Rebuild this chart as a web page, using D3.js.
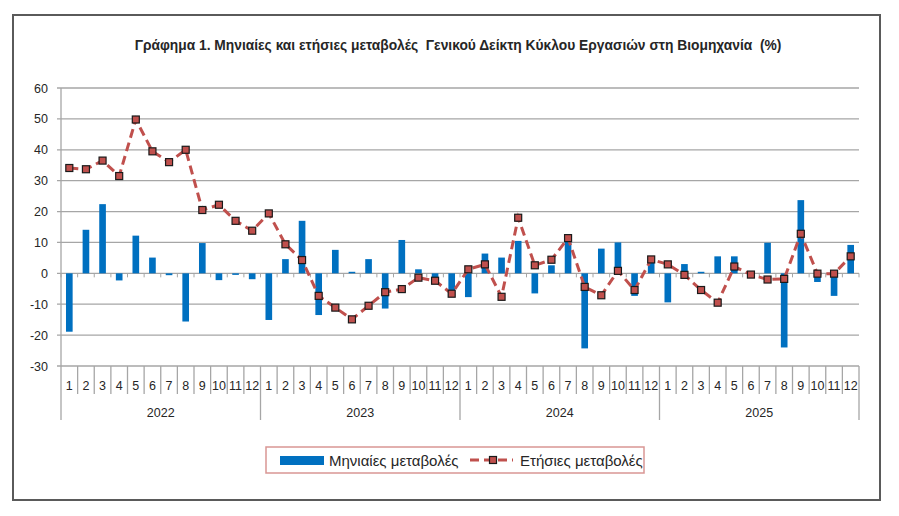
<!DOCTYPE html>
<html lang="el">
  <head>
    <meta charset="utf-8">
    <title>Γράφημα 1</title>
    <script src="https://d3js.org/d3.v7.min.js"></script>
    <style>
      body { margin: 0; background: #fff; }
      text { font-family: "Liberation Sans", Arial, sans-serif; fill: #262626; white-space: pre; }
    </style>
  </head>
  <body>
    <div id="chart"></div>
    <script>
      // Data
      var years = ["2022", "2023", "2024", "2025"];
      var months = ["1","2","3","4","5","6","7","8","9","10","11","12"];
      var yTicks = [-30, -20, -10, 0, 10, 20, 30, 40, 50, 60];

      // Μηνιαίες μεταβολές (bars)
      var monthly = [
        -18.9, 14.1, 22.4, -2.3, 12.2, 5.1, -0.6, -15.6, 9.8, -2.2, -0.5, -1.9,
        -15.1, 4.6, 17.0, -13.5, 7.6, 0.5, 4.6, -11.4, 10.8, 1.3, -1.8, -7.5,
        -7.7, 6.4, 5.1, 10.5, -6.5, 2.6, 12.0, -24.3, 8.0, 10.0, -7.3, 4.0,
        -9.4, 3.0, 0.5, 5.5, 5.5, -0.2, 9.9, -24.0, 23.7, -2.8, -7.3, 9.2
      ];
      // Ετήσιες μεταβολές (dashed line)
      var annual = [
        34.1, 33.7, 36.5, 31.5, 49.8, 39.5, 36.0, 40.0, 20.5, 22.2, 17.0, 13.8,
        19.4, 9.4, 4.3, -7.3, -11.1, -14.9, -10.5, -6.1, -5.1, -1.4, -2.4, -6.6,
        1.3, 2.9, -7.6, 18.0, 2.6, 4.4, 11.4, -4.4, -7.1, 0.8, -5.4, 4.5,
        2.9, -0.5, -5.4, -9.5, 2.2, -0.4, -2.0, -1.8, 12.8, -0.1, -0.1, 5.5
      ];

      var W = 899, H = 516;
      var plot = {left: 61, right: 859, top: 88, bottom: 366};

      var keys = [];
      years.forEach(function(y) { months.forEach(function(m) { keys.push(y + "-" + m); }); });

      var svg = d3.select("#chart").append("svg")
          .attr("width", W).attr("height", H);

      // outer frame
      svg.append("rect")
          .attr("x", 13).attr("y", 15).attr("width", 867).attr("height", 485)
          .attr("fill", "none").attr("stroke", "#5a5a5a").attr("stroke-width", 2);

      svg.append("text")
          .attr("x", 458).attr("y", 50)
          .attr("text-anchor", "middle")
          .style("font-size", "13.8px").style("font-weight", "bold")
          .text("Γράφημα 1. Μηνιαίες και ετήσιες μεταβολές  Γενικού Δείκτη Κύκλου Εργασιών στη Βιομηχανία  (%)");

      var x = d3.scaleBand().domain(keys).range([plot.left, plot.right])
          .paddingInner(0.6).paddingOuter(0.3);
      var step = x.step();
      var y = d3.scaleLinear().domain([-30, 60]).range([plot.bottom, plot.top]);

      // gridlines + y labels
      var yAxis = svg.append("g");
      yAxis.selectAll("line").data(yTicks).enter().append("line")
          .attr("x1", plot.left - 4).attr("x2", plot.right)
          .attr("y1", function(d) { return y(d); })
          .attr("y2", function(d) { return y(d); })
          .attr("stroke", "#a6a6a6").attr("stroke-width", 1.3);
      yAxis.selectAll("text").data(yTicks).enter().append("text")
          .attr("x", 48).attr("y", function(d) { return y(d) + 4.5; })
          .attr("text-anchor", "end")
          .style("font-size", "12.5px")
          .text(function(d) { return d; });
      svg.append("line")
          .attr("x1", plot.left).attr("x2", plot.left)
          .attr("y1", plot.top).attr("y2", plot.bottom)
          .attr("stroke", "#a6a6a6").attr("stroke-width", 1.3);

      // small ticks under the zero line
      var bounds = d3.range(keys.length + 1).map(function(i) { return plot.left + i * step; });
      svg.append("g").selectAll("line").data(bounds).enter().append("line")
          .attr("x1", function(d) { return d; }).attr("x2", function(d) { return d; })
          .attr("y1", y(0)).attr("y2", y(0) + 4)
          .attr("stroke", "#a6a6a6").attr("stroke-width", 1);

      // bars
      svg.append("g").selectAll("rect").data(monthly).enter().append("rect")
          .attr("x", function(d, i) { return x(keys[i]); })
          .attr("width", x.bandwidth())
          .attr("y", function(d) { return y(Math.max(0, d)); })
          .attr("height", function(d) { return Math.abs(y(d) - y(0)); })
          .attr("fill", "#0070c0");

      // category axis
      var cat = svg.append("g");
      cat.selectAll("line.m").data(bounds).enter().append("line")
          .attr("x1", function(d) { return d; }).attr("x2", function(d) { return d; })
          .attr("y1", plot.bottom)
          .attr("y2", function(d, i) { return i % 12 === 0 ? 420 : 394; })
          .attr("stroke", "#a6a6a6").attr("stroke-width", 1.3);
      cat.selectAll("text.m").data(keys).enter().append("text")
          .attr("x", function(d) { return x(d) + x.bandwidth() / 2; })
          .attr("y", 390)
          .attr("text-anchor", "middle")
          .style("font-size", "12.5px")
          .text(function(d) { return d.split("-")[1]; });
      cat.selectAll("text.y").data(years).enter().append("text")
          .attr("x", function(d, i) { return plot.left + (i * 12 + 6) * step; })
          .attr("y", 417)
          .attr("text-anchor", "middle")
          .style("font-size", "12.5px")
          .text(function(d) { return d; });

      // annual line
      var line = d3.line()
          .x(function(d, i) { return x(keys[i]) + x.bandwidth() / 2; })
          .y(function(d) { return y(d); });
      svg.append("path").datum(annual)
          .attr("d", line)
          .attr("fill", "none").attr("stroke", "#c0504d")
          .attr("stroke-width", 3).attr("stroke-dasharray", "9,5");
      svg.append("g").selectAll("rect").data(annual).enter().append("rect")
          .attr("x", function(d, i) { return x(keys[i]) + x.bandwidth() / 2 - 3.5; })
          .attr("y", function(d) { return y(d) - 3.5; })
          .attr("width", 7).attr("height", 7)
          .attr("fill", "#c0504d").attr("stroke", "#1a1a1a").attr("stroke-width", 1.2);

      // legend
      var lg = svg.append("g");
      lg.append("rect")
          .attr("x", 266).attr("y", 447).attr("width", 378).attr("height", 26)
          .attr("fill", "#fff").attr("stroke", "#d99694").attr("stroke-width", 1.5);
      lg.append("rect")
          .attr("x", 280).attr("y", 456).attr("width", 44).attr("height", 9)
          .attr("fill", "#0070c0");
      lg.append("text").attr("x", 329).attr("y", 466)
          .style("font-size", "15px").text("Μηνιαίες μεταβολές");
      lg.append("line")
          .attr("x1", 470).attr("x2", 513).attr("y1", 460).attr("y2", 460)
          .attr("stroke", "#c0504d").attr("stroke-width", 3).attr("stroke-dasharray", "9,5");
      lg.append("rect")
          .attr("x", 489.5).attr("y", 456.5).attr("width", 7).attr("height", 7)
          .attr("fill", "#c0504d").attr("stroke", "#1a1a1a").attr("stroke-width", 1.2);
      lg.append("text").attr("x", 520).attr("y", 466)
          .style("font-size", "15px").text("Ετήσιες μεταβολές");
    </script>
  </body>
</html>
